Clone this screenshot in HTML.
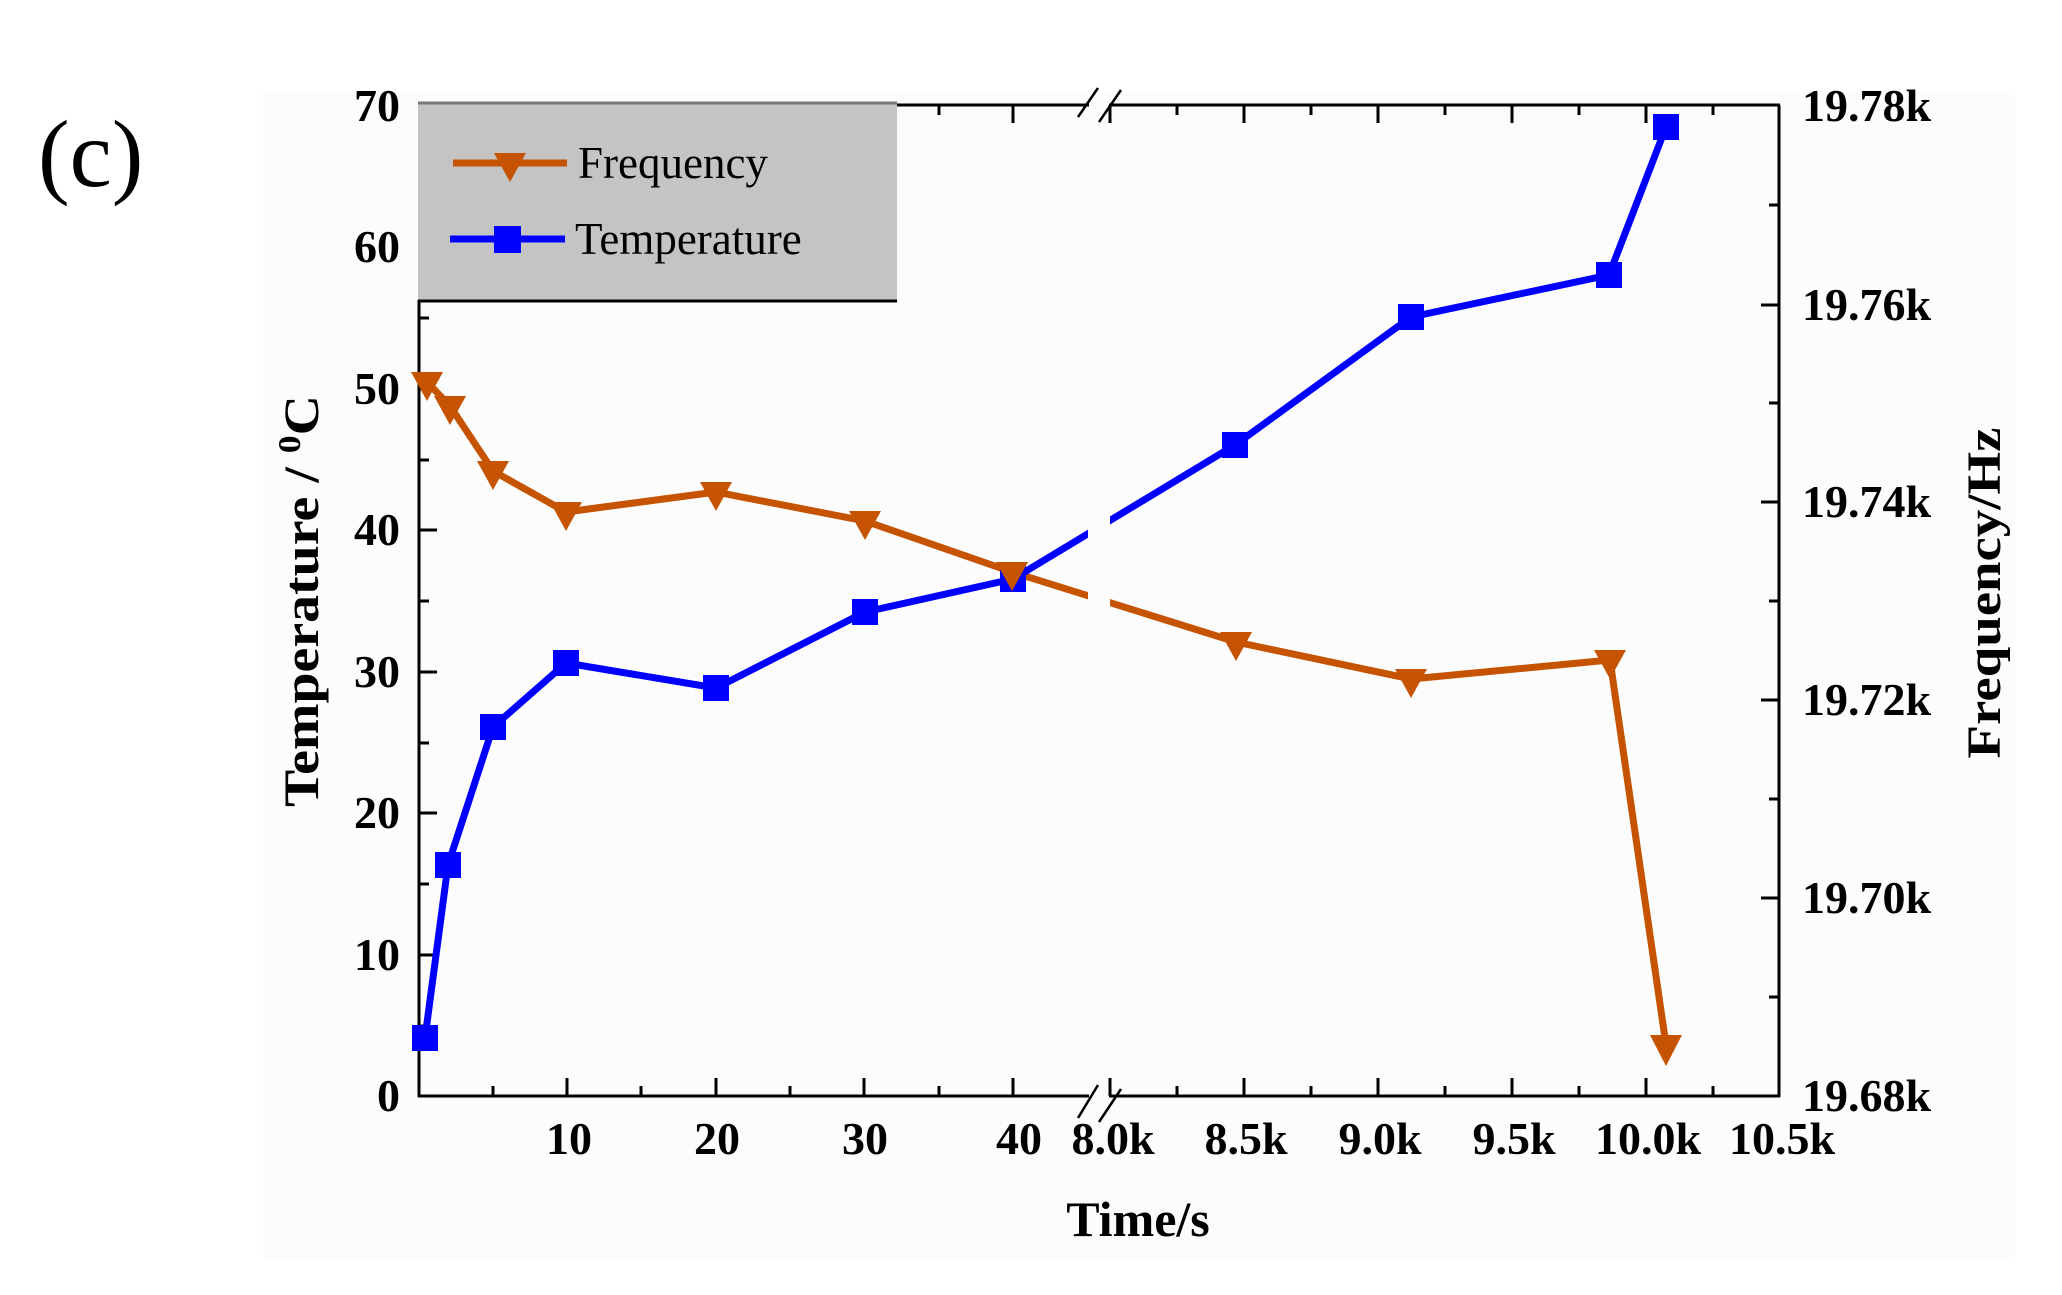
<!DOCTYPE html>
<html><head><meta charset="utf-8"><style>
html,body{margin:0;padding:0;background:#fff;}
svg{display:block;}
text{font-family:"Liberation Serif",serif;}
</style></head><body>
<svg width="2062" height="1295" viewBox="0 0 2062 1295" xmlns="http://www.w3.org/2000/svg">
<rect x="0" y="0" width="2062" height="1295" fill="#fff"/>
<rect x="263" y="90" width="1752" height="1168" fill="#fcfcfc"/>
<text x="38" y="186" font-size="95" fill="#000">(c)</text>

<rect x="418" y="102" width="479" height="199" fill="#c4c4c4"/>
<line x1="418" y1="103" x2="897" y2="103" stroke="#777" stroke-width="3"/>
<line x1="418" y1="301" x2="897" y2="301" stroke="#000" stroke-width="3"/>

<g stroke="#000" stroke-width="3" fill="none">
<line x1="419" y1="300" x2="419" y2="1097"/>
<line x1="1779" y1="105" x2="1779" y2="1097"/>
<line x1="418" y1="1096" x2="1089" y2="1096"/>
<line x1="1109" y1="1096" x2="1780" y2="1096"/>
<line x1="897" y1="105" x2="1089" y2="105"/>
<line x1="1109" y1="105" x2="1780" y2="105"/>
<line x1="1078" y1="1118" x2="1098" y2="1085" stroke-width="2.5"/>
<line x1="1099" y1="1122" x2="1121" y2="1089" stroke-width="2.5"/>
<line x1="1078" y1="117" x2="1098" y2="88" stroke-width="2.5"/>
<line x1="1099" y1="122" x2="1121" y2="90" stroke-width="2.5"/>
</g>
<g stroke="#000" stroke-width="3">
<line x1="419" y1="389" x2="437" y2="389"/><line x1="419" y1="530" x2="437" y2="530"/>
<line x1="419" y1="672" x2="437" y2="672"/><line x1="419" y1="813" x2="437" y2="813"/>
<line x1="419" y1="955" x2="437" y2="955"/>
<line x1="419" y1="318" x2="429" y2="318"/><line x1="419" y1="460" x2="429" y2="460"/>
<line x1="419" y1="601" x2="429" y2="601"/><line x1="419" y1="743" x2="429" y2="743"/>
<line x1="419" y1="884" x2="429" y2="884"/><line x1="419" y1="1026" x2="429" y2="1026"/>
<line x1="1761" y1="305" x2="1779" y2="305"/><line x1="1761" y1="502" x2="1779" y2="502"/>
<line x1="1761" y1="700" x2="1779" y2="700"/><line x1="1761" y1="898" x2="1779" y2="898"/>
<line x1="1769" y1="205" x2="1779" y2="205"/><line x1="1769" y1="403" x2="1779" y2="403"/>
<line x1="1769" y1="601" x2="1779" y2="601"/><line x1="1769" y1="799" x2="1779" y2="799"/>
<line x1="1769" y1="997" x2="1779" y2="997"/>
<line x1="567" y1="1096" x2="567" y2="1078"/><line x1="716" y1="1096" x2="716" y2="1078"/>
<line x1="864" y1="1096" x2="864" y2="1078"/><line x1="1013" y1="1096" x2="1013" y2="1078"/>
<line x1="493" y1="1096" x2="493" y2="1086"/><line x1="641" y1="1096" x2="641" y2="1086"/>
<line x1="790" y1="1096" x2="790" y2="1086"/><line x1="939" y1="1096" x2="939" y2="1086"/>
<line x1="1110" y1="1096" x2="1110" y2="1078"/><line x1="1244" y1="1096" x2="1244" y2="1078"/>
<line x1="1378" y1="1096" x2="1378" y2="1078"/><line x1="1512" y1="1096" x2="1512" y2="1078"/>
<line x1="1646" y1="1096" x2="1646" y2="1078"/>
<line x1="1177" y1="1096" x2="1177" y2="1086"/><line x1="1311" y1="1096" x2="1311" y2="1086"/>
<line x1="1445" y1="1096" x2="1445" y2="1086"/><line x1="1579" y1="1096" x2="1579" y2="1086"/>
<line x1="1713" y1="1096" x2="1713" y2="1086"/>
<line x1="939" y1="105" x2="939" y2="115"/><line x1="1013" y1="105" x2="1013" y2="123"/>
<line x1="1110" y1="105" x2="1110" y2="123"/><line x1="1244" y1="105" x2="1244" y2="123"/>
<line x1="1378" y1="105" x2="1378" y2="123"/><line x1="1512" y1="105" x2="1512" y2="123"/>
<line x1="1646" y1="105" x2="1646" y2="123"/>
<line x1="1177" y1="105" x2="1177" y2="115"/><line x1="1311" y1="105" x2="1311" y2="115"/>
<line x1="1445" y1="105" x2="1445" y2="115"/><line x1="1579" y1="105" x2="1579" y2="115"/>
<line x1="1713" y1="105" x2="1713" y2="115"/>
</g>

<clipPath id="gap"><rect x="0" y="0" width="1088" height="1295"/><rect x="1110" y="0" width="952" height="1295"/></clipPath>
<g clip-path="url(#gap)" fill="none" stroke-width="7" stroke-linejoin="round">
<polyline stroke="#c65300" points="427,382 450,406 493,471 566,512 716,492 865,521 1012,572 1236,642 1411,679 1610,660 1666,1045"/>
<polyline stroke="#0000ff" points="425,1038 448,865 493,727 566,663 716,688 865,612 1013,579 1235,445 1411,317 1609,275 1666,127"/>
</g>
<g fill="#c65300">
<polygon points="411,372 443,372 427,401"/><polygon points="434,396 466,396 450,425"/>
<polygon points="477,461 509,461 493,490"/><polygon points="550,502 582,502 566,531"/>
<polygon points="700,482 732,482 716,511"/><polygon points="849,511 881,511 865,540"/>
<polygon points="996,562 1028,562 1012,591"/><polygon points="1220,632 1252,632 1236,661"/>
<polygon points="1395,669 1427,669 1411,698"/><polygon points="1594,650 1626,650 1610,679"/>
<polygon points="1650,1035 1682,1035 1666,1066"/>
</g>
<g fill="#0000ff">
<rect x="412" y="1025" width="26" height="26"/><rect x="435" y="852" width="26" height="26"/>
<rect x="480" y="714" width="26" height="26"/><rect x="553" y="650" width="26" height="26"/>
<rect x="703" y="675" width="26" height="26"/><rect x="852" y="599" width="26" height="26"/>
<rect x="1000" y="566" width="26" height="26"/><rect x="1222" y="432" width="26" height="26"/>
<rect x="1398" y="304" width="26" height="26"/><rect x="1596" y="262" width="26" height="26"/>
<rect x="1653" y="114" width="26" height="26"/>
</g>
<polygon points="996,562 1028,562 1012,591" fill="#c65300"/>

<line x1="453" y1="163" x2="567" y2="163" stroke="#c65300" stroke-width="7"/>
<polygon points="494,153 526,153 510,182" fill="#c65300"/>
<text x="578" y="178" font-size="45">Frequency</text>
<line x1="450" y1="239" x2="565" y2="239" stroke="#0000ff" stroke-width="7"/>
<rect x="494" y="226" width="27" height="27" fill="#0000ff"/>
<text x="575" y="254" font-size="45">Temperature</text>

<g font-size="46" font-weight="bold" text-anchor="end">
<text x="400" y="121">70</text><text x="400" y="262">60</text><text x="400" y="404">50</text>
<text x="400" y="545">40</text><text x="400" y="687">30</text><text x="400" y="828">20</text>
<text x="400" y="970">10</text><text x="400" y="1111">0</text>
</g>
<g font-size="46" font-weight="bold">
<text x="1802" y="121">19.78k</text><text x="1802" y="320">19.76k</text>
<text x="1802" y="517">19.74k</text><text x="1802" y="715">19.72k</text>
<text x="1802" y="913">19.70k</text><text x="1802" y="1111">19.68k</text>
</g>
<g font-size="46" font-weight="bold" text-anchor="middle">
<text x="569" y="1154">10</text><text x="717" y="1154">20</text><text x="865" y="1154">30</text>
<text x="1019" y="1154">40</text><text x="1113" y="1154">8.0k</text><text x="1246" y="1154">8.5k</text>
<text x="1380" y="1154">9.0k</text><text x="1514" y="1154">9.5k</text>
<text x="1648" y="1154">10.0k</text><text x="1782" y="1154">10.5k</text>
</g>
<text x="1138" y="1236" font-size="50" font-weight="bold" text-anchor="middle">Time/s</text>
<text transform="translate(318,601) rotate(-90)" font-size="50" font-weight="bold" text-anchor="middle" textLength="412" lengthAdjust="spacingAndGlyphs">Temperature / <tspan dy="-18" font-size="32">0</tspan><tspan dy="18">C</tspan></text>
<text transform="translate(2000,593) rotate(-90)" font-size="48" font-weight="bold" text-anchor="middle" textLength="331" lengthAdjust="spacingAndGlyphs">Frequency/Hz</text>
</svg>
</body></html>
